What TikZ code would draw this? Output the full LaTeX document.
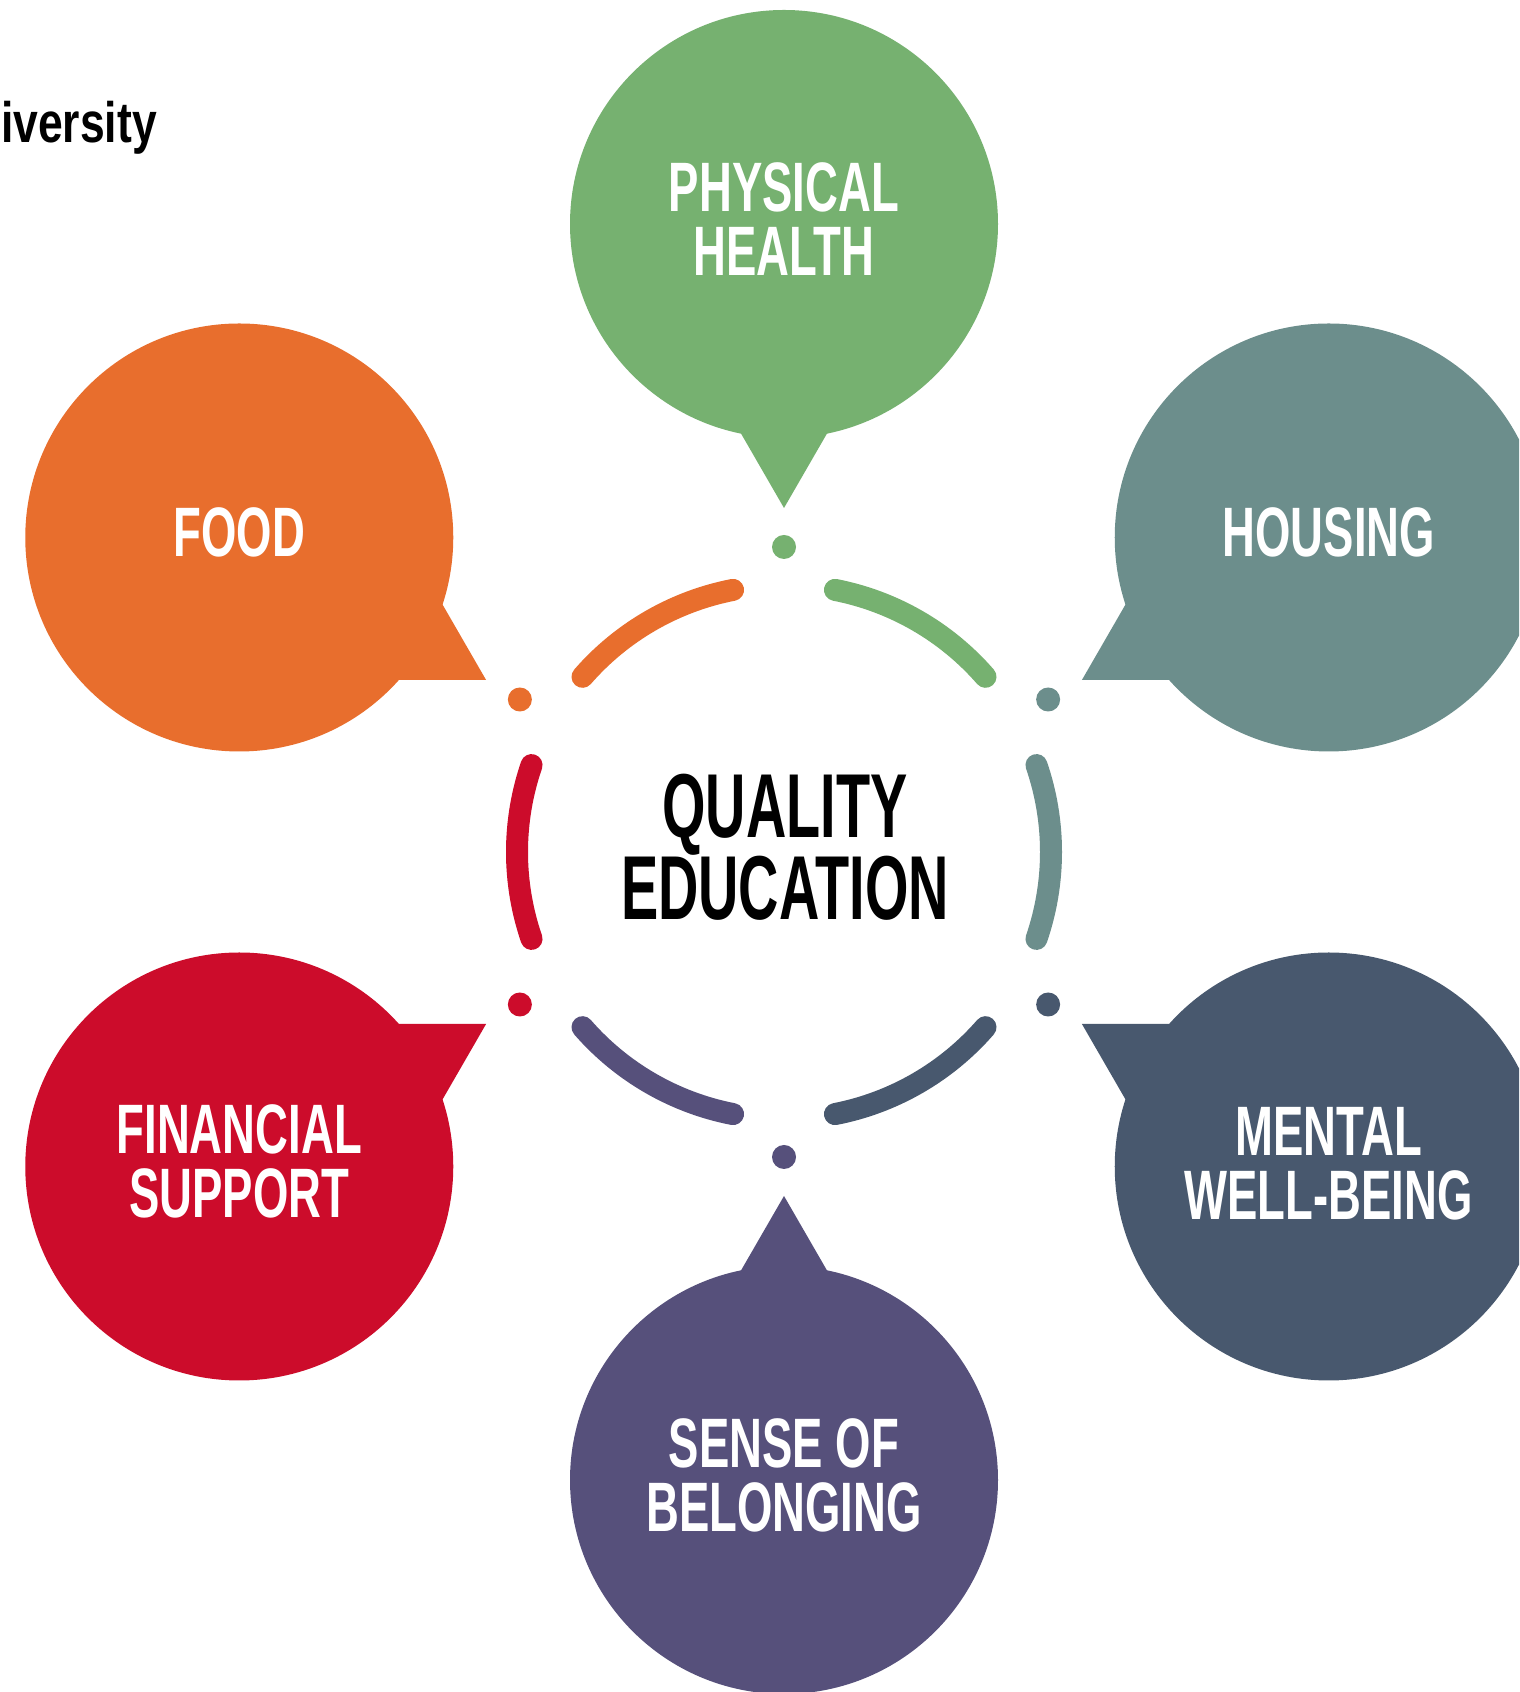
\documentclass[tikz,border=0pt]{standalone}
\usepackage{fontspec}
\setmainfont{Liberation Sans}
\newfontfamily\bubblefont{Liberation Sans}[FakeStretch=0.65]
\newfontfamily\centerfont{Liberation Sans}[FakeStretch=0.615]
\newfontfamily\logofont{Liberation Sans}[FakeStretch=0.78]
\usetikzlibrary{calc}
\definecolor{cgreen}{HTML}{76B170}
\definecolor{cteal}{HTML}{6C8E8C}
\definecolor{corange}{HTML}{E86E2D}
\definecolor{cred}{HTML}{CC0C2B}
\definecolor{cpurple}{HTML}{56507B}
\definecolor{cslate}{HTML}{48586E}
\tikzset{
  bubble/.style={circle, fill=#1, draw=none, minimum size=428pt, inner sep=0pt},
  bubbletext/.style={text=white, align=center, inner sep=0pt,
    font=\bubblefont\bfseries\fontsize{70}{64}\selectfont},
  centertext/.style={text=black, align=center, inner sep=0pt,
    font=\centerfont\bfseries\fontsize{90.8}{82}\selectfont},
  ringarc/.style={draw=#1, line width=22pt, line cap=round},
  ringdot/.style={circle, fill=#1, draw=none, minimum size=24pt, inner sep=0pt},
}
\begin{document}
\begin{tikzpicture}[x=1pt,y=1pt]
\useasboundingbox (0,0) rectangle (1519,1692);
\clip (0,0) rectangle (1519,1692);
\fill[white] (0,0) rectangle (1519,1692);
\coordinate (C) at (784,840);

% logo fragment
\node[anchor=base east, inner sep=0pt, text=black,
  font=\logofont\bfseries\fontsize{57}{60}\selectfont] (logo) at (157,1549) {University};

% ---------- bubbles ----------
% Physical health (90)
\coordinate (physTip) at ($(C)+(90:344)$);
\fill[cgreen] (physTip) -- ($(physTip)+(120:100)$) -- ($(physTip)+(60:100)$) -- cycle;
\node[bubble=cgreen] (phys) at ($(C)+(90:628)$) {};
\node[bubbletext] (physT) at ($(phys.center)+(0,5)$) {PHYSICAL\\HEALTH};

% Housing (30)
\coordinate (housTip) at ($(C)+(30:344)$);
\fill[cteal] (housTip) -- ($(housTip)+(60:100)$) -- ($(housTip)+(0:100)$) -- cycle;
\node[bubble=cteal] (hous) at ($(C)+(30:629)$) {};
\node[bubbletext] (housT) at ($(hous.center)+(0,5)$) {HOUSING};

% Food (150)
\coordinate (foodTip) at ($(C)+(150:344)$);
\fill[corange] (foodTip) -- ($(foodTip)+(180:100)$) -- ($(foodTip)+(120:100)$) -- cycle;
\node[bubble=corange] (food) at ($(C)+(150:629)$) {};
\node[bubbletext] (foodT) at ($(food.center)+(0,5)$) {FOOD};

% Financial support (210)
\coordinate (finTip) at ($(C)+(210:344)$);
\fill[cred] (finTip) -- ($(finTip)+(240:100)$) -- ($(finTip)+(180:100)$) -- cycle;
\node[bubble=cred] (fin) at ($(C)+(210:629)$) {};
\node[bubbletext] (finT) at ($(fin.center)+(0,5)$) {FINANCIAL\\SUPPORT};

% Sense of belonging (270)
\coordinate (belTip) at ($(C)+(270:344)$);
\fill[cpurple] (belTip) -- ($(belTip)+(300:100)$) -- ($(belTip)+(240:100)$) -- cycle;
\node[bubble=cpurple] (bel) at ($(C)+(270:628)$) {};
\node[bubbletext] (belT) at ($(bel.center)+(0,5)$) {SENSE OF\\BELONGING};

% Mental well-being (330)
\coordinate (mentTip) at ($(C)+(330:344)$);
\fill[cslate] (mentTip) -- ($(mentTip)+(0:100)$) -- ($(mentTip)+(300:100)$) -- cycle;
\node[bubble=cslate] (ment) at ($(C)+(330:629)$) {};
\node[bubbletext] (mentT) at ($(ment.center)+(0,3)$) {MENTAL\\WELL-BEING};

% ---------- ring arcs ----------
\draw[ringarc=cgreen]   ($(C)+(41:267)$)  arc[start angle=41,  end angle=79,  radius=267];
\draw[ringarc=cteal]    ($(C)+(-19:267)$) arc[start angle=-19, end angle=19,  radius=267];
\draw[ringarc=corange]  ($(C)+(101:267)$) arc[start angle=101, end angle=139, radius=267];
\draw[ringarc=cred]     ($(C)+(161:267)$) arc[start angle=161, end angle=199, radius=267];
\draw[ringarc=cpurple]  ($(C)+(221:267)$) arc[start angle=221, end angle=259, radius=267];
\draw[ringarc=cslate]   ($(C)+(281:267)$) arc[start angle=281, end angle=319, radius=267];

% ---------- dots ----------
\node[ringdot=cgreen]  (dPhys) at ($(C)+(90:305)$)  {};
\node[ringdot=cteal]   (dHous) at ($(C)+(30:305)$)  {};
\node[ringdot=corange] (dFood) at ($(C)+(150:305)$) {};
\node[ringdot=cred]    (dFin)  at ($(C)+(210:305)$) {};
\node[ringdot=cpurple] (dBel)  at ($(C)+(270:305)$) {};
\node[ringdot=cslate]  (dMent) at ($(C)+(330:305)$) {};

% ---------- centre ----------
\node[centertext] (qe) at ($(C)+(1,5)$) {QUALITY\\EDUCATION};
\end{tikzpicture}
\end{document}
